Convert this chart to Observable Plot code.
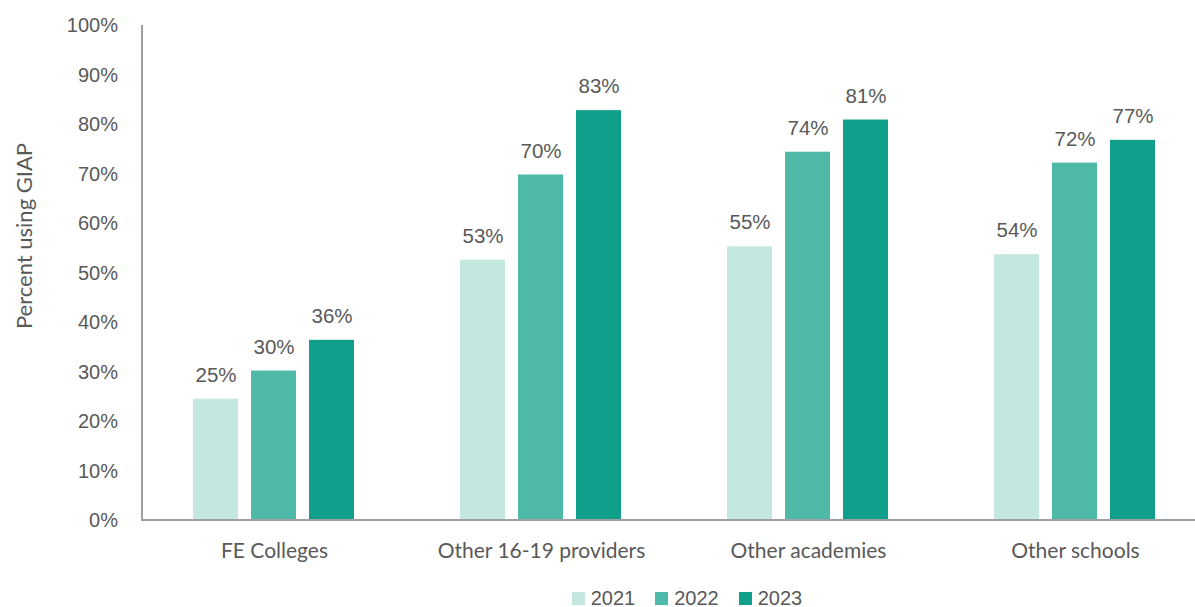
<!DOCTYPE html>
<html>
<head>
<meta charset="utf-8">
<script src="https://cdn.jsdelivr.net/npm/d3@7"></script>
<script src="https://cdn.jsdelivr.net/npm/@observablehq/plot@0.6"></script>
<style>
  html, body { margin: 0; padding: 0; background: #fff; overflow: hidden; }
  #chart { width: 1195px; height: 580px; overflow: hidden; }
  #legend { display: flex; justify-content: center; gap: 20px; padding-left: 179px; height: 27px; margin-top: 5px; align-items: center;
    font-family: "Liberation Sans", Arial, sans-serif; font-size: 20px; color: #595959; }
  #legend span.item { display: flex; align-items: center; gap: 6px; }
  #legend span.sw { width: 13px; height: 13px; display: inline-block; }
</style>
</head>
<body>
<div id="chart"></div>
<div id="legend"></div>
<script>
const categories = ["FE Colleges", "Other 16-19 providers", "Other academies", "Other schools"];
const years = ["2021", "2022", "2023"];
const values2021 = [24.5, 52.6, 55.3, 53.7];
const values2022 = [30.2, 69.8, 74.4, 72.2];
const values2023 = [36.4, 82.8, 80.9, 76.8];
const labels2021 = ["25%", "53%", "55%", "54%"];
const labels2022 = ["30%", "70%", "74%", "72%"];
const labels2023 = ["36%", "83%", "81%", "77%"];
const yTicks = [0, 10, 20, 30, 40, 50, 60, 70, 80, 90, 100];
const colors = ["#c4e7e0", "#4fb9a8", "#109f8a"];

const series = [values2021, values2022, values2023];
const labelSeries = [labels2021, labels2022, labels2023];
const data = [];
categories.forEach((c, i) => years.forEach((y, j) => data.push({category: c, year: y, value: series[j][i], label: labelSeries[j][i]})));

const catFont = "Lato, 'Open Sans', sans-serif";
const numFont = "'Liberation Sans', Arial, sans-serif";

const plot = Plot.plot({
  width: 1195,
  height: 580,
  marginTop: 25,
  marginBottom: 60,
  marginLeft: 139,
  marginRight: -15,
  style: {fontFamily: numFont, fontSize: "20px", color: "#595959", background: "#fff", overflow: "visible"},
  fx: {domain: categories, paddingInner: 0.385, paddingOuter: 0.1925, label: null, axis: null},
  x: {domain: years, paddingInner: 0.22, paddingOuter: 0, axis: null},
  y: {domain: [0, 100], ticks: yTicks, label: null, axis: null},
  color: {domain: years, range: colors},
  marks: [
    Plot.barY(data, {fx: "category", x: "year", y: "value", fill: "year"}),
    Plot.text(data, {fx: "category", x: "year", y: "value", text: "label", dy: -24, fill: "#595959",
      fontSize: 20.5, fontFamily: numFont}),
    Plot.axisFx({anchor: "bottom", tickSize: 0, tickPadding: 23, fontSize: 21, fontFamily: catFont, label: null, fill: "#595959"})
  ]
});

// axes spanning all facets, positioned with the plot's own y scale
const svg = d3.select(plot);
const ys = plot.scale("y");
const y0 = ys.apply(0), y100 = ys.apply(100);
const g = svg.append("g");
g.selectAll("text.tick").data(yTicks).join("text")
  .attr("x", 118).attr("y", d => ys.apply(d)).attr("dy", "0.36em")
  .attr("text-anchor", "end").attr("fill", "#595959").attr("font-size", 20)
  .attr("font-family", numFont).text(d => d + "%");
g.append("line").attr("x1", 142).attr("x2", 1195).attr("y1", y0).attr("y2", y0)
  .attr("stroke", "#a0a0a0").attr("stroke-width", 2);
g.append("line").attr("x1", 142).attr("x2", 142).attr("y1", y100).attr("y2", y0 + 1)
  .attr("stroke", "#a0a0a0").attr("stroke-width", 2);
g.append("text").attr("transform", `translate(24,236) rotate(-90)`)
  .attr("text-anchor", "middle").attr("dy", "0.35em").attr("fill", "#595959").attr("font-size", 22)
  .attr("font-family", catFont).text("Percent using GIAP");

document.getElementById("chart").appendChild(plot);

const legend = document.getElementById("legend");
years.forEach((y, j) => {
  const item = document.createElement("span");
  item.className = "item";
  item.innerHTML = `<span class="sw" style="background:${colors[j]}"></span><span>${y}</span>`;
  legend.appendChild(item);
});
</script>
</body>
</html>
